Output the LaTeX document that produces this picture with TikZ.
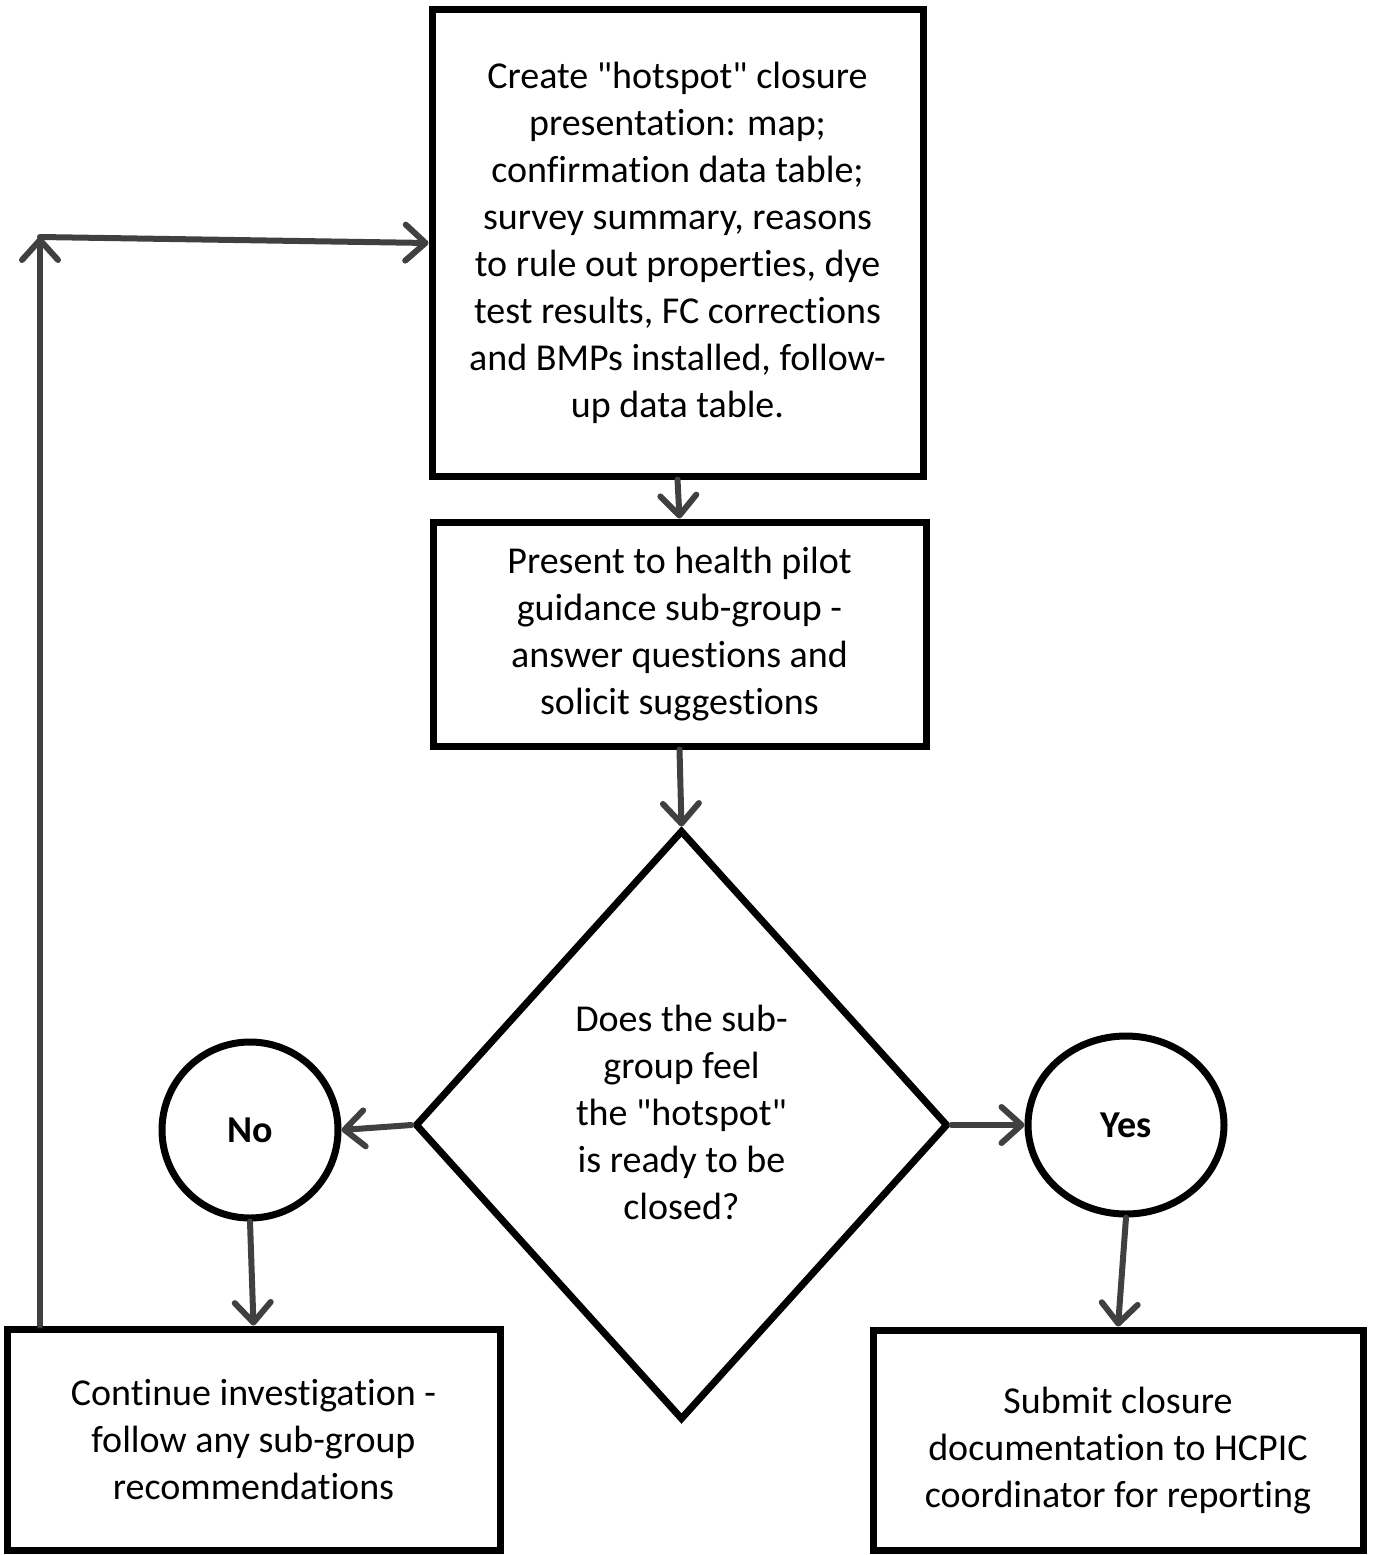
\documentclass[tikz,border=0pt]{standalone}
\usepackage{fontspec}
\setmainfont{Carlito}[Ligatures={TeXOff,NoCommon}]
\usetikzlibrary{arrows.meta,shapes.geometric}
\begin{document}
\begin{tikzpicture}[x=0.75pt,y=-0.75pt,
  boxstyle/.style={draw=black,line width=5.25pt,fill=white,inner sep=0pt,align=center,
    font=\fontsize{28.5pt}{35.25pt}\selectfont},
  txt/.style={inner sep=0pt,align=center,font=\fontsize{28.5pt}{35.25pt}\selectfont},
  arr/.style={draw=arrgray,line width=4.5pt,line cap=round,
    -{Straight Barb[length=15pt,width=27pt,round]}}
]
\definecolor{arrgray}{HTML}{404040}
\useasboundingbox (0,0) rectangle (1372,1555);

\node[boxstyle,minimum width=368.25pt,minimum height=349.5pt] (top) at (677.5,243)
 {Create "hotspot" closure\\presentation: map;\\confirmation data table;\\survey summary, reasons\\to rule out properties, dye\\test results, FC corrections\\and BMPs installed, follow-\\up data table.};

\node[boxstyle,minimum width=369.75pt,minimum height=168pt] (pres) at (679.5,634)
 {Present to health pilot\\guidance sub-group -\\answer questions and\\solicit suggestions};

\node[draw=black,line width=5.25pt,shape=diamond,inner sep=0pt,
  minimum width=399.75pt,minimum height=442.5pt] (q) at (681.5,1125) {};
\node[txt] (qtext) at (681.5,1112) {Does the sub-\\group feel\\the "hotspot"\\is ready to be\\closed?};

\node[draw=black,line width=5.25pt,circle,inner sep=0pt,minimum size=132pt,
  font=\fontsize{28.5pt}{30pt}\selectfont\bfseries] (no) at (250,1130) {No};
\node[draw=black,line width=5.25pt,ellipse,inner sep=0pt,minimum width=147pt,minimum height=133.5pt,
  font=\fontsize{28.5pt}{30pt}\selectfont\bfseries] (yes) at (1126,1125) {Yes};

\node[boxstyle,minimum width=369.75pt,minimum height=165.75pt] (cont) at (253.5,1439.5)
 {Continue investigation -\\follow any sub-group\\recommendations};
\node[boxstyle,minimum width=367.5pt,minimum height=165pt] (sub) at (1118,1440)
 {\raisebox{0pt}{}\\[-35.25pt]\\Submit closure\\documentation to HCPIC\\coordinator for reporting};

\coordinate (corner) at (40,237);

\draw[arr] (top.south) -- (pres.north);
\draw[arr] (pres.south) -- (q.north);
\draw[arr] (q.west) -- (no.east);
\draw[arr] (q.east) -- (yes.west);
\draw[arr] (no.south) -- (cont.north);
\draw[arr] (yes.south) -- (sub.north);
\draw[arr] (cont.north -| corner) -- (corner);
\draw[arr] (corner) -- (top.west);
\end{tikzpicture}
\end{document}
